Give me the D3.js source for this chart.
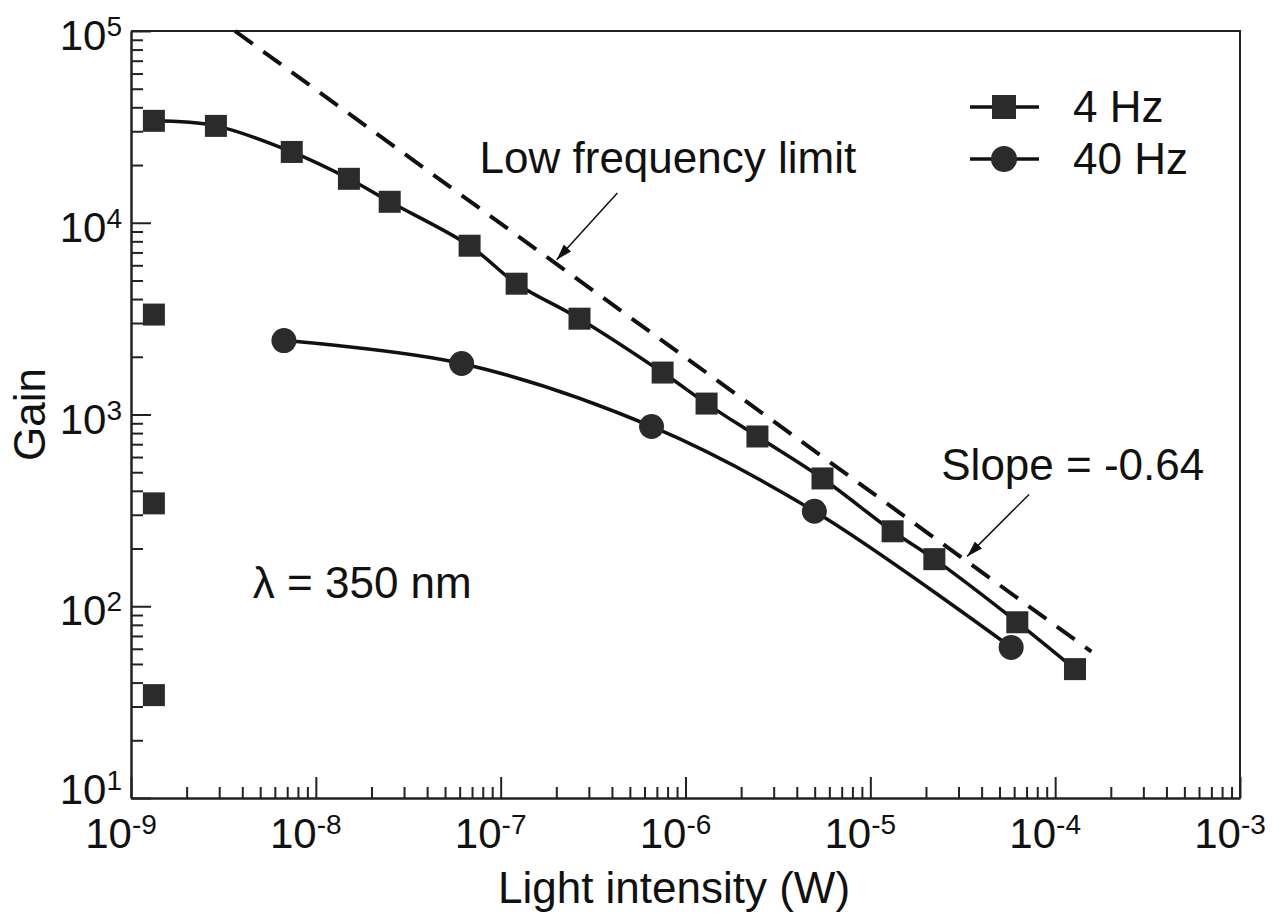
<!DOCTYPE html>
<html>
<head>
<meta charset="utf-8">
<script src="https://cdn.jsdelivr.net/npm/d3@7"></script>
<style>
  body { margin: 0; background: #fff; }
  text { font-family: "Liberation Sans", Arial, Helvetica, sans-serif; fill: #111; }
</style>
</head>
<body>
<svg id="chart" width="1285" height="915"></svg>
<script>
// 4 Hz curve (squares)
const intensity4Hz = [1.33e-9, 2.88e-9, 7.41e-9, 1.51e-8, 2.51e-8, 6.79e-8, 1.22e-7, 2.67e-7,
  7.52e-7, 1.30e-6, 2.45e-6, 5.51e-6, 1.32e-5, 2.22e-5, 6.24e-5, 1.28e-4];
const gain4Hz = [34000, 32000, 23400, 16950, 12860, 7590, 4810, 3160,
  1655, 1140, 768, 464, 246, 176, 82.5, 47];
// lone squares sitting on the left edge
const intensityEdge = [1.33e-9, 1.33e-9, 1.33e-9];
const gainEdge = [3320, 344, 34.4];
// 40 Hz curve (circles)
const intensity40Hz = [6.72e-9, 6.15e-8, 6.55e-7, 4.98e-6, 5.78e-5];
const gain40Hz = [2430, 1845, 866, 313, 61];
// low frequency limit (dashed)
const limitIntensity = [3.65e-9, 1.57e-4];
const limitGain = [1e5, 58];

const xTickExp = [-9, -8, -7, -6, -5, -4, -3];
const yTickExp = [1, 2, 3, 4, 5];

const width = 1285;
const height = 915;
const margin = { left: 131, right: 45, top: 31, bottom: 117 };
const font = 44;

const svg = d3.select("#chart");

const xScale = d3.scaleLog()
  .domain([1e-9, 1e-3])
  .range([margin.left, width - margin.right]);
const yScale = d3.scaleLog()
  .domain([10, 1e5])
  .range([height - margin.bottom, margin.top]);

const toPts = (xs, ys) => xs.map((x, i) => ({ x: x, y: ys[i] }));

// minor tick values
const minorX = [];
for (let e = -9; e < -3; e++) for (let m = 2; m <= 9; m++) minorX.push(m * Math.pow(10, e));
const minorY = [];
for (let e = 1; e < 5; e++) for (let m = 2; m <= 9; m++) minorY.push(m * Math.pow(10, e));

const x0 = margin.left, x1 = width - margin.right;
const y0 = height - margin.bottom, y1 = margin.top;

// frame (top and right)
svg.append("path")
  .attr("d", `M${x0},${y1}H${x1}V${y0}`)
  .attr("fill", "none")
  .attr("stroke", "#222")
  .attr("stroke-width", 2);

// x axis
svg.append("g")
  .attr("transform", `translate(0,${y0})`)
  .call(d3.axisBottom(xScale)
    .tickValues(xTickExp.map((e) => Math.pow(10, e)))
    .tickSize(-21).tickSizeOuter(0).tickFormat(""));
svg.append("g")
  .attr("transform", `translate(0,${y0})`)
  .call(d3.axisBottom(xScale)
    .tickValues(minorX)
    .tickSize(-11).tickSizeOuter(0).tickFormat(""));

// y axis
svg.append("g")
  .attr("transform", `translate(${x0},0)`)
  .call(d3.axisLeft(yScale)
    .tickValues(yTickExp.map((e) => Math.pow(10, e)))
    .tickSize(-20).tickSizeOuter(0).tickFormat(""));
svg.append("g")
  .attr("transform", `translate(${x0},0)`)
  .call(d3.axisLeft(yScale)
    .tickValues(minorY)
    .tickSize(-12).tickSizeOuter(0).tickFormat(""));

svg.selectAll(".domain").attr("stroke", "#222").attr("stroke-width", 2);
svg.selectAll(".tick line").attr("stroke", "#222").attr("stroke-width", 2);

// tick labels with superscripts
xTickExp.forEach((e) => {
  const t = svg.append("text")
    .attr("x", xScale(Math.pow(10, e)) - 10)
    .attr("y", y0 + 50)
    .attr("text-anchor", "middle")
    .attr("font-size", 42);
  t.append("tspan").text("10");
  t.append("tspan").attr("font-size", 28).attr("dy", -14).text(e);
});
yTickExp.forEach((e) => {
  const t = svg.append("text")
    .attr("x", x0 - 9)
    .attr("y", yScale(Math.pow(10, e)) + (e === 1 ? 6 : 19))
    .attr("text-anchor", "end")
    .attr("font-size", 42);
  t.append("tspan").text("10");
  t.append("tspan").attr("font-size", 28).attr("dy", -14).text(e);
});

// axis titles
svg.append("text")
  .attr("x", 674).attr("y", 903)
  .attr("text-anchor", "middle")
  .attr("font-size", font)
  .text("Light intensity (W)");
svg.append("text")
  .attr("transform", `translate(45,${(y0 + y1) / 2}) rotate(-90)`)
  .attr("text-anchor", "middle")
  .attr("font-size", font)
  .text("Gain");

const line = d3.line()
  .x((d) => xScale(d.x))
  .y((d) => yScale(d.y));

// dashed limit
svg.append("path")
  .attr("d", line(toPts(limitIntensity, limitGain)))
  .attr("fill", "none")
  .attr("stroke", "#111")
  .attr("stroke-width", 4)
  .attr("stroke-dasharray", "22,13");

const smooth = d3.line()
  .x((d) => xScale(d.x))
  .y((d) => yScale(d.y))
  .curve(d3.curveCatmullRom);

svg.append("path")
  .attr("d", smooth(toPts(intensity4Hz, gain4Hz)))
  .attr("fill", "none").attr("stroke", "#111").attr("stroke-width", 3.5);
svg.append("path")
  .attr("d", smooth(toPts(intensity40Hz, gain40Hz)))
  .attr("fill", "none").attr("stroke", "#111").attr("stroke-width", 3.5);

const sq = 22;
const markFill = "#2b2b2b";
svg.append("g").selectAll("rect")
  .data(toPts(intensity4Hz, gain4Hz).concat(toPts(intensityEdge, gainEdge)))
  .join("rect")
  .attr("x", (d) => xScale(d.x) - sq / 2)
  .attr("y", (d) => yScale(d.y) - sq / 2)
  .attr("width", sq).attr("height", sq)
  .attr("fill", markFill);
svg.append("g").selectAll("circle")
  .data(toPts(intensity40Hz, gain40Hz))
  .join("circle")
  .attr("cx", (d) => xScale(d.x))
  .attr("cy", (d) => yScale(d.y))
  .attr("r", 12.5)
  .attr("fill", markFill);

// arrow marker
svg.append("defs").append("marker")
  .attr("id", "arrow")
  .attr("viewBox", "0 0 16 10")
  .attr("refX", 16).attr("refY", 5)
  .attr("markerWidth", 16).attr("markerHeight", 10)
  .attr("markerUnits", "userSpaceOnUse")
  .attr("orient", "auto")
  .append("path").attr("d", "M0,0L16,5L0,10z").attr("fill", "#111");

// annotations
svg.append("text")
  .attr("x", xScale(7.69e-8)).attr("y", yScale(18200))
  .attr("font-size", font)
  .text("Low frequency limit");
svg.append("line")
  .attr("x1", xScale(4.28e-7)).attr("y1", yScale(14300))
  .attr("x2", xScale(2.01e-7)).attr("y2", yScale(6410))
  .attr("stroke", "#111").attr("stroke-width", 1.5)
  .attr("marker-end", "url(#arrow)");

svg.append("text")
  .attr("x", xScale(2.42e-5)).attr("y", yScale(458))
  .attr("font-size", font)
  .text("Slope = -0.64");
svg.append("line")
  .attr("x1", xScale(7.22e-5)).attr("y1", yScale(383))
  .attr("x2", xScale(3.34e-5)).attr("y2", yScale(182))
  .attr("stroke", "#111").attr("stroke-width", 1.5)
  .attr("marker-end", "url(#arrow)");

svg.append("text")
  .attr("x", xScale(4.56e-9)).attr("y", yScale(110))
  .attr("font-size", font)
  .text("λ = 350 nm");

// legend
const legend = svg.append("g").attr("transform", "translate(970,0)");
[{ label: "4 Hz", y: 107, shape: "square" }, { label: "40 Hz", y: 159, shape: "circle" }]
  .forEach((d) => {
    legend.append("line")
      .attr("x1", 0).attr("x2", 69).attr("y1", d.y).attr("y2", d.y)
      .attr("stroke", "#111").attr("stroke-width", 3.5);
    if (d.shape === "square") {
      legend.append("rect")
        .attr("x", 34 - 12).attr("y", d.y - 12)
        .attr("width", 24).attr("height", 24)
        .attr("fill", markFill);
    } else {
      legend.append("circle")
        .attr("cx", 34).attr("cy", d.y).attr("r", 13)
        .attr("fill", markFill);
    }
    legend.append("text")
      .attr("x", 103).attr("y", d.y + 15)
      .attr("font-size", font)
      .text(d.label);
  });
</script>
</body>
</html>
